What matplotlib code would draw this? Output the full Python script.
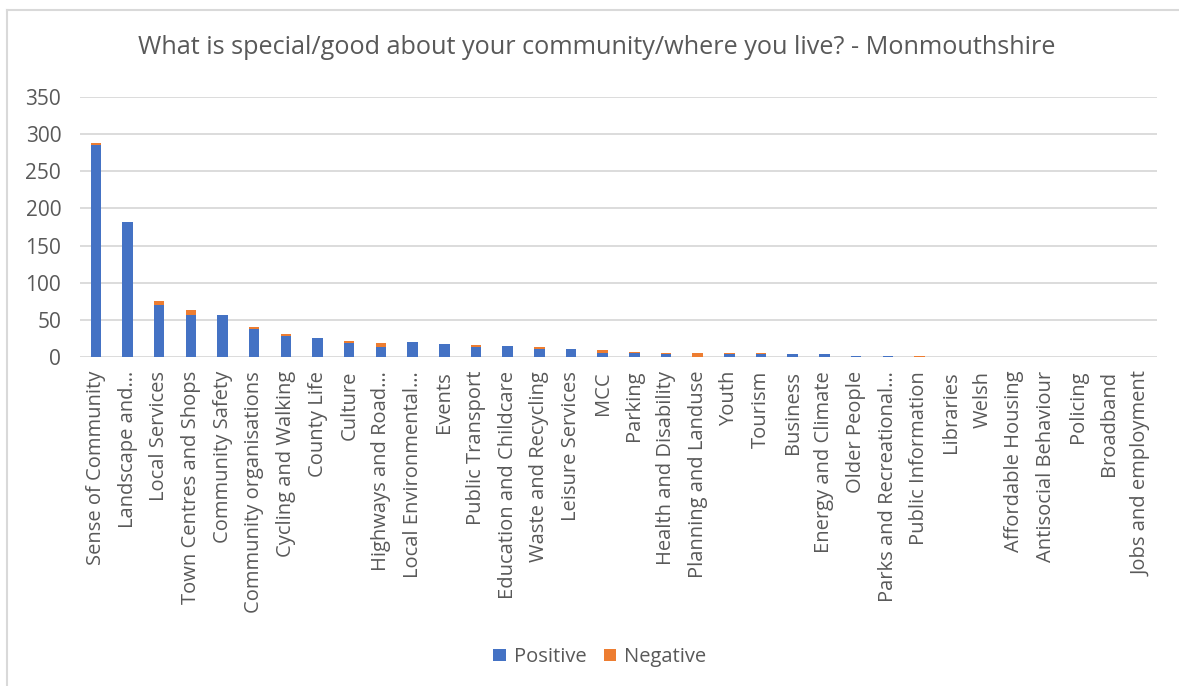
import matplotlib
matplotlib.use("Agg")
import matplotlib.pyplot as plt
import numpy as np
from matplotlib.lines import Line2D

categories = [
    "Sense of Community", "Landscape and…", "Local Services", "Town Centres and Shops",
    "Community Safety", "Community organisations", "Cycling and Walking", "County Life",
    "Culture", "Highways and Road…", "Local Environmental…", "Events",
    "Public Transport", "Education and Childcare", "Waste and Recycling", "Leisure Services",
    "MCC", "Parking", "Health and Disability", "Planning and Landuse",
    "Youth", "Tourism", "Business", "Energy and Climate",
    "Older People", "Parks and Recreational…", "Public Information", "Libraries",
    "Welsh", "Affordable Housing", "Antisocial Behaviour", "Policing",
    "Broadband", "Jobs and employment",
]
positive = [285, 182, 70, 56, 57, 38, 28, 26, 19, 14, 20, 17,
            14, 15, 11, 11, 6, 5, 4, 0, 4, 4, 4, 4,
            2, 2, 0, 0, 0, 0, 0, 0, 0, 0]
negative = [3, 0, 5, 7, 0, 2, 3, 0, 2, 5, 0, 0,
            2, 0, 2, 0, 3, 2, 2, 6, 2, 2, 0, 0,
            0, 0, 2, 0, 0, 0, 0, 0, 0, 0]
series_names = ["Positive", "Negative"]
y_ticks = [0, 50, 100, 150, 200, 250, 300, 350]

BLUE = "#4472C4"
ORANGE = "#ED7D31"
TEXT = "#595959"
GRID = "#D9D9D9"

plt.rcParams['font.family'] = ['Open Sans', 'DejaVu Sans']

fig = plt.figure(figsize=(11.79, 6.86), dpi=100)
W, H = 1179, 686
ax = fig.add_axes([80 / W, 1 - 357 / H, (1157 - 80) / W, (357 - 97) / H])

x = np.arange(len(categories))
ax.bar(x, positive, width=0.33, color=BLUE, zorder=3, label=series_names[0])
ax.bar(x, negative, width=0.33, bottom=positive, color=ORANGE, zorder=3, label=series_names[1])

ax.set_xlim(-0.5, len(categories) - 0.5)
ax.set_ylim(0, 350)
ax.set_yticks(y_ticks)
ax.yaxis.grid(True, color=GRID, linewidth=1.3, zorder=0)
ax.set_axisbelow(True)
for s in ax.spines.values():
    s.set_visible(False)
ax.tick_params(axis='y', length=0, pad=13.5, labelsize=15, colors=TEXT)
ax.set_xticks(x)
ax.set_xticklabels(categories, rotation=90, fontsize=14.5, color=TEXT)
ax.tick_params(axis='x', length=0, pad=10)

fig.text(597 / W, 1 - 47 / H,
         "What is special/good about your community/where you live? - Monmouthshire",
         ha='center', va='center', fontsize=18.2, color=TEXT)

# chart border (left and top visible)
fig.add_artist(Line2D([7 / W, 7 / W], [0, 1 - 10 / H], transform=fig.transFigure,
                      color=GRID, linewidth=1.5))
fig.add_artist(Line2D([7 / W, 1], [1 - 10 / H, 1 - 10 / H], transform=fig.transFigure,
                      color=GRID, linewidth=1.5))

handles, labels = ax.get_legend_handles_labels()
fig.legend(handles, labels, loc='center', bbox_to_anchor=(600 / W, 1 - 657 / H), ncol=2,
           frameon=False, fontsize=14.5, handlelength=0.6, handleheight=0.6,
           handletextpad=0.4, columnspacing=0.9, labelcolor=TEXT)

fig.savefig("out.png", dpi=100)
